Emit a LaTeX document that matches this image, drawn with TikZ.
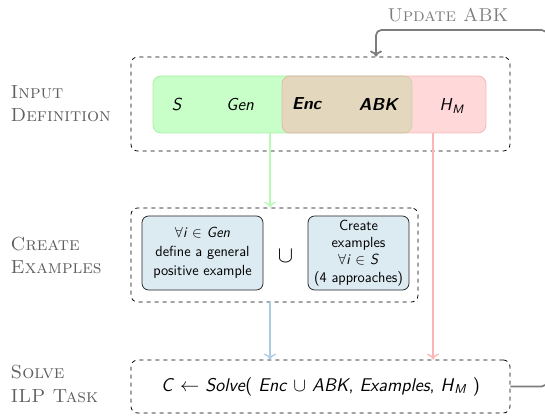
\documentclass[tikz,border=0pt]{standalone}
\usetikzlibrary{arrows.meta}
\definecolor{gfill}{RGB}{145,255,145}
\definecolor{gdraw}{RGB}{150,235,150}
\definecolor{rfill}{RGB}{255,177,180}
\definecolor{rdraw}{RGB}{240,150,150}
\definecolor{bfill}{RGB}{220,234,242}
\definecolor{labgray}{RGB}{95,95,95}
\definecolor{fbgray}{RGB}{125,125,125}
\definecolor{garrow}{RGB}{185,250,185}
\definecolor{rarrow}{RGB}{252,180,180}
\definecolor{barrow}{RGB}{170,205,225}
\newcommand{\si}[1]{\textit{#1}}
\begin{document}
\begin{tikzpicture}[x=0.75pt,y=-0.75pt,
  dbox/.style={draw=black, dashed, line width=0.6pt, rounded corners=5pt, inner sep=0pt},
  greenbox/.style={draw=gdraw, fill=gfill, fill opacity=0.5, draw opacity=0.8, line width=0.6pt, rounded corners=6pt, inner sep=0pt},
  redbox/.style={draw=rdraw, fill=rfill, fill opacity=0.5, draw opacity=0.6, line width=0.6pt, rounded corners=6pt, inner sep=0pt},
  bluebox/.style={draw=black!85, fill=bfill, line width=0.6pt, rounded corners=5pt, inner sep=0pt, align=center, font=\sffamily\fontsize{11}{12.9}\selectfont},
  steplabel/.style={anchor=west, align=left, text=labgray, font=\fontsize{14.2}{17.5}\selectfont\scshape},
  intext/.style={font=\sffamily\fontsize{13}{15}\selectfont},
  conn/.style={line width=1pt, -{Computer Modern Rightarrow[length=4.5pt,width=9pt]}},
  fbline/.style={draw=fbgray, line width=1.3pt, rounded corners=4pt, -{Computer Modern Rightarrow[length=4.5pt,width=9pt]}}
]
\useasboundingbox (0,0) rectangle (545,416);

% step labels
\node[steplabel] (l1) at (6,104) {Input\\Definition};
\node[steplabel] (l2) at (6,255.5) {Create\\Examples};
\node[steplabel] (l3) at (6,384) {Solve\\ILP Task};
\node[text=fbgray, font=\fontsize{14}{17}\selectfont\scshape] (lupd) at (448,15) {Update ABK};

% input definition
\node[dbox, minimum width=379*0.75pt, minimum height=94*0.75pt] (inbox) at (320.5,104) {};
\node[greenbox, minimum width=259*0.75pt, minimum height=57*0.75pt] (gbox) at (282.5,104.5) {};
\node[redbox, minimum width=204*0.75pt, minimum height=57*0.75pt] (rbox) at (384,104.5) {};
\node[intext] (tS) at (177,104) {\si{S}};
\node[intext] (tGen) at (240,104) {\si{Gen}};
\node[intext] (tEnc) at (307,104) {\textbf{\si{Enc}}};
\node[intext] (tABK) at (379,104) {\textbf{\si{ABK}}};
\node[intext] (tHM) at (452,106) {\si{H}\textsubscript{\si{M}}};

% create examples
\node[dbox, minimum width=287*0.75pt, minimum height=94*0.75pt] (exbox) at (274.5,255) {};
\node[bluebox, minimum width=121*0.75pt, minimum height=74*0.75pt] (b1) at (202.5,253)
  {$\forall$\si{i} $\in$ \si{Gen}\\[1.5pt] define a general\\[1.5pt] positive example};
\node[font=\fontsize{17}{19}\selectfont] (cup) at (285.5,256) {$\cup$};
\node[bluebox, minimum width=101*0.75pt, minimum height=74*0.75pt] (b2) at (358.5,253)
  {Create\\examples\\$\forall$\si{i} $\in$ \si{S}\\(4 approaches)};

% solve
\node[dbox, minimum width=379*0.75pt, minimum height=53*0.75pt] (solve) at (320.5,386.5)
  {\sffamily\fontsize{13.8}{16}\selectfont \si{C} $\leftarrow$ \si{Solve}( \si{Enc} $\cup$ \si{ABK}, \si{Examples}, \si{H}\textsubscript{\si{M}} )};

% connectors
\coordinate (gx) at (270,0);
\coordinate (rx) at (433,0);
\draw[conn, garrow] (gbox.south -| gx) -- (exbox.north -| gx);
\draw[conn, rarrow] (rbox.south -| rx) -- (solve.north -| rx);
\draw[conn, barrow] (exbox.south -| gx) -- (solve.north -| gx);

% feedback
\coordinate (f1) at (547,386.5);
\coordinate (f2) at (547,30);
\coordinate (f3) at (376,30);
\draw[fbline] (solve.east) -- (f1) -- (f2) -- (f3) -- (inbox.north -| f3);
\end{tikzpicture}
\end{document}
